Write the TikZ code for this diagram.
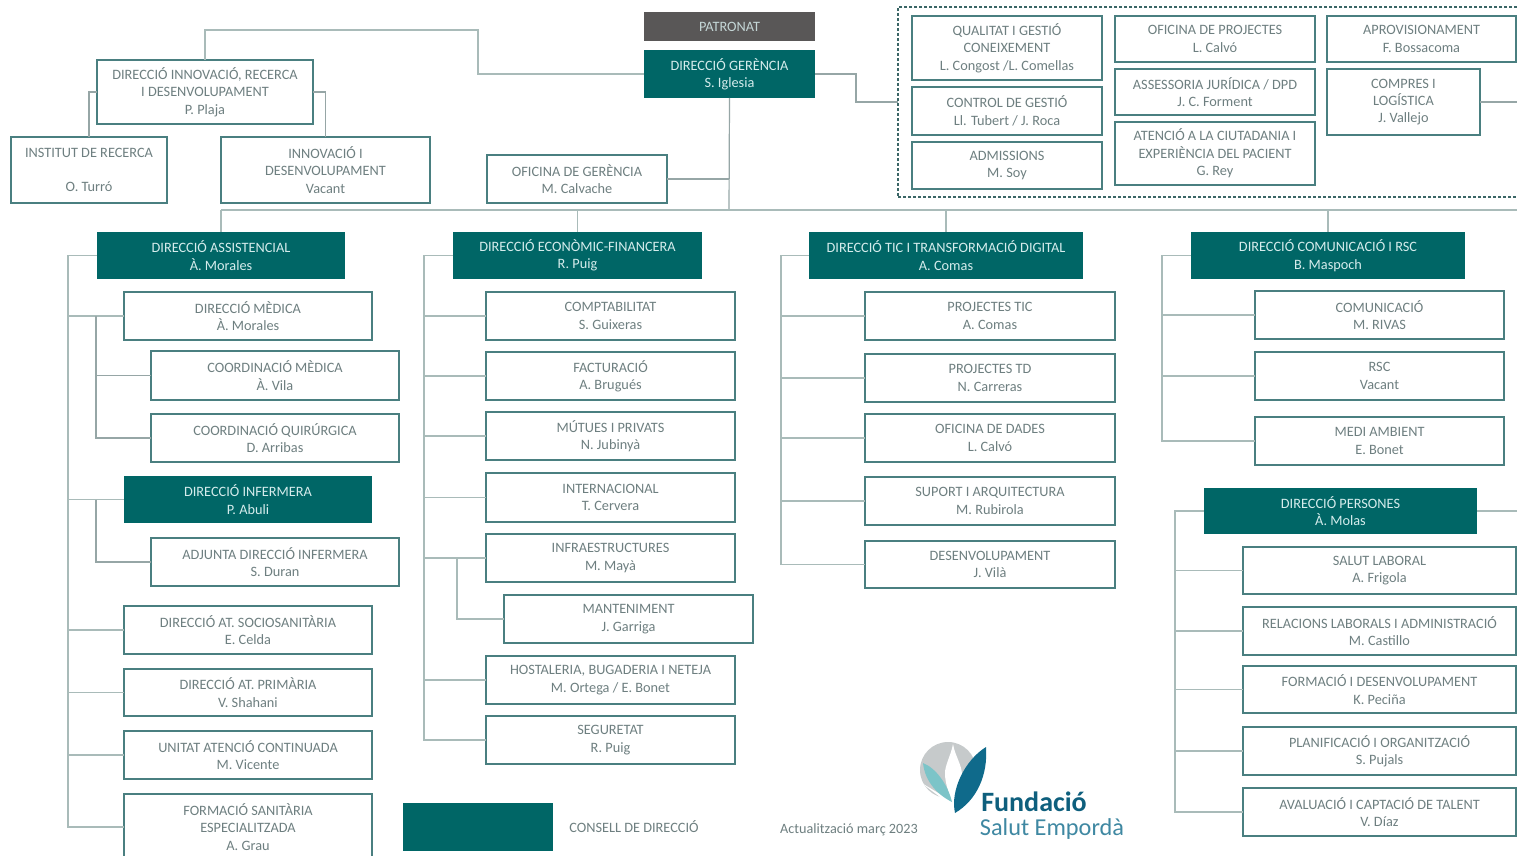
\documentclass[tikz,border=0pt]{standalone}
\usepackage{fontspec}
\setmainfont{Carlito}
\definecolor{teal1}{HTML}{006666}
\definecolor{edge1}{HTML}{4A7F80}
\definecolor{line1}{HTML}{A9BBB9}
\definecolor{line2}{HTML}{96A6A6}
\definecolor{txt1}{HTML}{6E7F80}
\definecolor{txt2}{HTML}{D5ECEC}
\definecolor{gray1}{HTML}{595757}
\definecolor{logoB}{HTML}{0F6A8B}
\definecolor{logoL}{HTML}{7CC4C8}
\definecolor{logoG}{HTML}{C6CACB}
\tikzset{
  every node/.style={inner sep=0pt,outer sep=0pt,align=center},
  lab/.style={font=\fontsize{14.3}{17.4}\selectfont},
  plainbox/.style={lab,draw=edge1,line width=1.5pt,fill=white,text=txt1},
  headbox/.style={lab,fill=teal1,text=txt2},
  greybox/.style={lab,fill=gray1,text=txt2!80!gray},
  groupbox/.style={draw=edge1!80!black,line width=1.3pt,densely dashed},
  conn/.style={draw=line1,line width=1.5pt},
  subconn/.style={draw=line2,line width=1.2pt},
}
\newcommand\nb[7][plainbox]{%
  \node[#1,minimum width={(#5-#3)*1pt},minimum height={(#6-#4)*1pt}] (#2) at ({(#3+#5)/2},{(#4+#6)/2}) {#7};}
\begin{document}
\begin{tikzpicture}[x=1pt,y=-1pt]
\clip (0,0) rectangle (1517,856);
\fill[white] (0,0) rectangle (1517,856);
% group
\nb[groupbox]{grp}{898}{7}{1540}{197}{}
% top
\nb[greybox]{pat}{644}{12}{815}{41}{PATRONAT}
\nb[headbox]{ger}{644}{50}{815}{98}{DIRECCIÓ GERÈNCIA\\S. Iglesia}
\nb{innov}{97}{60}{313}{124}{DIRECCIÓ INNOVACIÓ, RECERCA\\I DESENVOLUPAMENT\\P. Plaja}
\nb{inst}{11}{137}{167}{203}{INSTITUT DE RECERCA\\ ~ \\O. Turró}
\nb{inno}{221}{137}{430}{203}{INNOVACIÓ I\\DESENVOLUPAMENT\\Vacant}
\nb{ofi}{487}{155}{667}{203}{OFICINA DE GERÈNCIA\\M. Calvache}
% group content
\nb{qual}{912}{16}{1102}{80}{QUALITAT I GESTIÓ\\CONEIXEMENT\\L. Congost /L. Comellas}
\nb{ctrl}{912}{87}{1102}{135}{CONTROL DE GESTIÓ\\Ll. Tubert / J. Roca}
\nb{adm}{912}{142}{1102}{189}{ADMISSIONS\\M. Soy}
\nb{opro}{1115}{16}{1315}{62}{OFICINA DE PROJECTES\\L. Calvó}
\nb{ases}{1115}{69}{1315}{115}{ASSESSORIA JURÍDICA / DPD\\J. C. Forment}
\nb{aten}{1115}{122}{1315}{185}{ATENCIÓ A LA CIUTADANIA I\\EXPERIÈNCIA DEL PACIENT\\G. Rey}
\nb{apro}{1327}{16}{1516}{62}{APROVISIONAMENT\\F. Bossacoma}
\nb{comp}{1327}{69}{1480}{135}{COMPRES I\\LOGÍSTICA\\J. Vallejo}
% assistencial
\nb[headbox]{asis}{97}{232}{345}{279}{DIRECCIÓ ASSISTENCIAL\\À. Morales}
\nb{med}{124}{292}{372}{340}{DIRECCIÓ MÈDICA\\À. Morales}
\nb{cmed}{151}{351}{399}{400}{COORDINACIÓ MÈDICA\\À. Vila}
\nb{cqui}{151}{414}{399}{462}{COORDINACIÓ QUIRÚRGICA\\D. Arribas}
\nb[headbox]{infer}{124}{476}{372}{523}{DIRECCIÓ INFERMERA\\P. Abuli}
\nb{adj}{151}{538}{399}{586}{ADJUNTA DIRECCIÓ INFERMERA\\S. Duran}
\nb{soc}{124}{606}{372}{654}{DIRECCIÓ AT. SOCIOSANITÀRIA\\E. Celda}
\nb{prim}{124}{669}{372}{716}{DIRECCIÓ AT. PRIMÀRIA\\V. Shahani}
\nb{unit}{124}{731}{372}{779}{UNITAT ATENCIÓ CONTINUADA\\M. Vicente}
\nb{fse}{124}{794}{372}{860}{FORMACIÓ SANITÀRIA\\ESPECIALITZADA\\A. Grau}
% economic
\nb[headbox]{econ}{453}{232}{702}{279}{DIRECCIÓ ECONÒMIC-FINANCERA\\R. Puig}
\nb{cpt}{486}{292}{735}{340}{COMPTABILITAT\\S. Guixeras}
\nb{fac}{486}{352}{735}{400}{FACTURACIÓ\\A. Brugués}
\nb{mut}{486}{412}{735}{460}{MÚTUES I PRIVATS\\N. Jubinyà}
\nb{int}{486}{473}{735}{522}{INTERNACIONAL\\T. Cervera}
\nb{inf}{486}{534}{735}{582}{INFRAESTRUCTURES\\M. Mayà}
\nb{man}{504}{595}{753}{643}{MANTENIMENT\\J. Garriga}
\nb{hos}{486}{656}{735}{704}{HOSTALERIA, BUGADERIA I NETEJA\\M. Ortega / E. Bonet}
\nb{seg}{486}{716}{735}{764}{SEGURETAT\\R. Puig}
% tic
\nb[headbox]{tic}{809}{232}{1083}{279}{DIRECCIÓ TIC I TRANSFORMACIÓ DIGITAL\\A. Comas}
\nb{ptic}{865}{292}{1115}{340}{PROJECTES TIC\\A. Comas}
\nb{ptd}{865}{354}{1115}{402}{PROJECTES TD\\N. Carreras}
\nb{dad}{865}{414}{1115}{462}{OFICINA DE DADES\\L. Calvó}
\nb{sup}{865}{477}{1115}{525}{SUPORT I ARQUITECTURA\\M. Rubirola}
\nb{des}{865}{541}{1115}{588}{DESENVOLUPAMENT\\J. Vilà}
% comunicacio
\nb[headbox]{com}{1191}{232}{1465}{279}{DIRECCIÓ COMUNICACIÓ I RSC\\B. Maspoch}
\nb{comu}{1255}{291}{1504}{339}{COMUNICACIÓ\\M. RIVAS}
\nb{rsc}{1255}{352}{1504}{400}{RSC\\Vacant}
\nb{medi}{1255}{417}{1504}{465}{MEDI AMBIENT\\E. Bonet}
% persones
\nb[headbox]{per}{1204}{488}{1477}{534}{DIRECCIÓ PERSONES\\À. Molas}
\nb{sal}{1243}{547}{1516}{594}{SALUT LABORAL\\A. Frigola}
\nb{rel}{1243}{607}{1516}{655}{RELACIONS LABORALS I ADMINISTRACIÓ\\M. Castillo}
\nb{for}{1243}{666}{1516}{713}{FORMACIÓ I DESENVOLUPAMENT\\K. Peciña}
\nb{pla}{1243}{727}{1516}{775}{PLANIFICACIÓ I ORGANITZACIÓ\\S. Pujals}
\nb{ava}{1243}{788}{1516}{836}{AVALUACIÓ I CAPTACIÓ DE TALENT\\V. Díaz}
% legend
\nb[headbox]{leg}{403}{803}{553}{851}{}
\node[lab,text=txt1] (legt) at (634,827) {CONSELL DE DIRECCIÓ};
\node[text=txt1,font=\fontsize{14.2}{15}\selectfont] (upd) at (849,830) {Actualització març 2023};
% coordinates
\coordinate (k1) at (856,74);
\coordinate (k2) at (478,30);
\coordinate (bar) at (729,210);
\coordinate (barE) at (1517,210);
\coordinate (ta) at (68,255);
\coordinate (tb) at (424,255);
\coordinate (tc) at (781,255);
\coordinate (td) at (1162,255);
\coordinate (te) at (1175,511);
\coordinate (sa) at (96,316);
\coordinate (sb) at (96,499);
\coordinate (sc) at (457,558);
\coordinate (ed1) at (1517,102);
\coordinate (ed2) at (1517,511);
% connectors
\draw[conn] (ger.west) -| (k2) -| (innov.north);
\draw[subconn] (ger.east) -- (ger.east -| k1) |- (grp.west);
\draw[subconn] (ger.south) -- (bar);
\draw[subconn] (ofi.east) -- (ofi.east -| bar);
\draw[subconn] (innov.west) -| (inst.north);
\draw[subconn] (innov.east) -| (inno.north);
\draw[conn] (asis.north |- bar) -- (barE);
\foreach \n in {asis,econ,tic,com}{\draw[conn] (\n.north) -- (\n.north |- bar);}
\draw[subconn] (comp.east) -- (comp.east -| ed1);
\draw[conn] (per.east) -- (per.east -| ed2);
% trunks
\draw[conn] (asis.west) -- (asis.west -| ta) -- (ta |- fse.west) -- (fse.west);
\foreach \n in {med,infer,soc,prim,unit}{\draw[conn] (\n.west) -- (\n.west -| ta);}
\draw[subconn] (sa |- med.west) -- (sa |- cqui.west) -- (cqui.west);
\draw[subconn] (cmed.west) -- (cmed.west -| sa);
\draw[subconn] (sb |- infer.west) -- (sb |- adj.west) -- (adj.west);
\draw[conn] (econ.west) -- (econ.west -| tb) -- (tb |- seg.west) -- (seg.west);
\foreach \n in {cpt,fac,mut,int,inf,hos}{\draw[conn] (\n.west) -- (\n.west -| tb);}
\draw[conn] (sc |- inf.west) -- (sc |- man.west) -- (man.west);
\draw[conn] (tic.west) -- (tic.west -| tc) -- (tc |- des.west) -- (des.west);
\foreach \n in {ptic,ptd,dad,sup}{\draw[conn] (\n.west) -- (\n.west -| tc);}
\draw[conn] (com.west) -- (com.west -| td) -- (td |- medi.west) -- (medi.west);
\foreach \n in {comu,rsc}{\draw[conn] (\n.west) -- (\n.west -| td);}
\draw[conn] (per.west) -- (per.west -| te) -- (te |- ava.west) -- (ava.west);
\foreach \n in {sal,rel,for,pla}{\draw[conn] (\n.west) -- (\n.west -| te);}
% logo
\fill[logoG] (948,770) circle (28);
\fill[white] (920,782) -- (952,806) -- (978,806) -- (978,790) -- (950,800) -- cycle;
\fill[white] (953,744) .. controls (955,756) and (962,765) .. (962,775) .. controls (962,788) and (955,798) .. (953,806) .. controls (950,795) and (945,785) .. (945,773) .. controls (945,765) and (951,755) .. (953,744);
\fill[logoL] (923,763) .. controls (936,768) and (948,785) .. (952,802) .. controls (938,795) and (925,782) .. (923,763);
\fill[logoB] (986,747) .. controls (988,775) and (977,800) .. (955,813) .. controls (950,790) and (965,760) .. (986,747);
\node[text=logoB!90!black,font=\fontsize{28}{30}\selectfont\bfseries] (fund) at (1034,802) {Fundació};
\node[text=logoB!80!white,font=\fontsize{24.3}{26}\selectfont] (sal2) at (1052,829) {Salut Empordà};
\end{tikzpicture}
\end{document}
